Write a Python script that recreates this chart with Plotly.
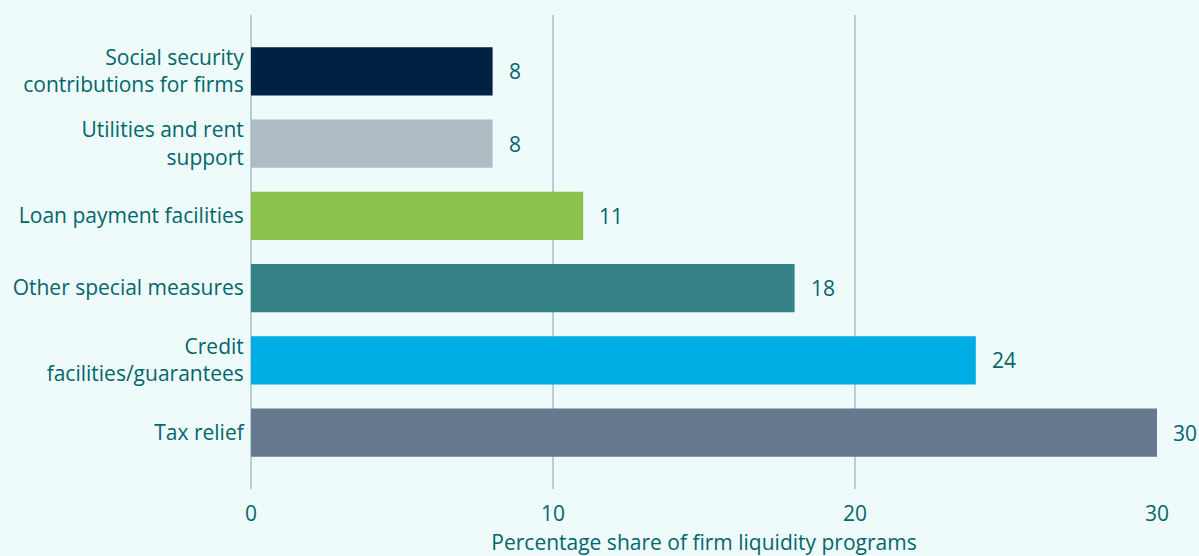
import plotly.graph_objects as go

categories = ["Social security<br>contributions for firms", "Utilities and rent<br>support",
              "Loan payment facilities", "Other special measures",
              "Credit<br>facilities/guarantees", "Tax relief"]
values = [8, 8, 11, 18, 24, 30]
colors = ["#002242", "#AFBCC4", "#8CC24C", "#348286", "#00ADE4", "#667A8F"]
x_ticks = [0, 10, 20, 30]
x_title = "Percentage share of firm liquidity programs"

TEXT = "#00676C"
GRID = "#B4D2D5"
BG = "#EFFAFA"
FONT = "Open Sans"
FS = 21

fig = go.Figure(go.Bar(
    y=categories, x=values, orientation="h",
    marker=dict(color=colors, line=dict(width=0)),
    width=0.665, hoverinfo="skip",
))

for c, v in zip(categories, values):
    fig.add_annotation(x=v, y=c, text=str(v), showarrow=False,
                       xanchor="left", xshift=14,
                       font=dict(family=FONT, size=FS, color=TEXT))

fig.update_layout(
    width=1199, height=556,
    margin=dict(l=251, r=42, t=15, b=67),
    paper_bgcolor=BG, plot_bgcolor=BG,
    showlegend=False,
    font=dict(family=FONT, size=FS, color=TEXT),
)
fig.update_xaxes(
    automargin=False,
    range=[0, 30], tickvals=x_ticks, ticktext=[str(t) for t in x_ticks],
    showgrid=True, gridcolor=GRID, gridwidth=1.5,
    zeroline=True, zerolinecolor=GRID, zerolinewidth=1.5,
    showline=False, ticks="outside", ticklen=6, tickcolor="rgba(0,0,0,0)",
    tickfont=dict(size=FS, color=TEXT),
    title=dict(text=x_title, font=dict(size=FS, color=TEXT)),
)
fig.update_yaxes(
    automargin=False,
    autorange=False, range=[5.78, -0.78],
    categoryorder="array", categoryarray=categories,
    showgrid=False, zeroline=False, showline=False,
    ticks="outside", ticklen=2, tickcolor="rgba(0,0,0,0)",
    tickfont=dict(size=FS, color=TEXT),
)

fig.write_html("out.html", config={"displayModeBar": False},
               post_script="document.body.style.margin='0';document.body.style.overflow='hidden';")
